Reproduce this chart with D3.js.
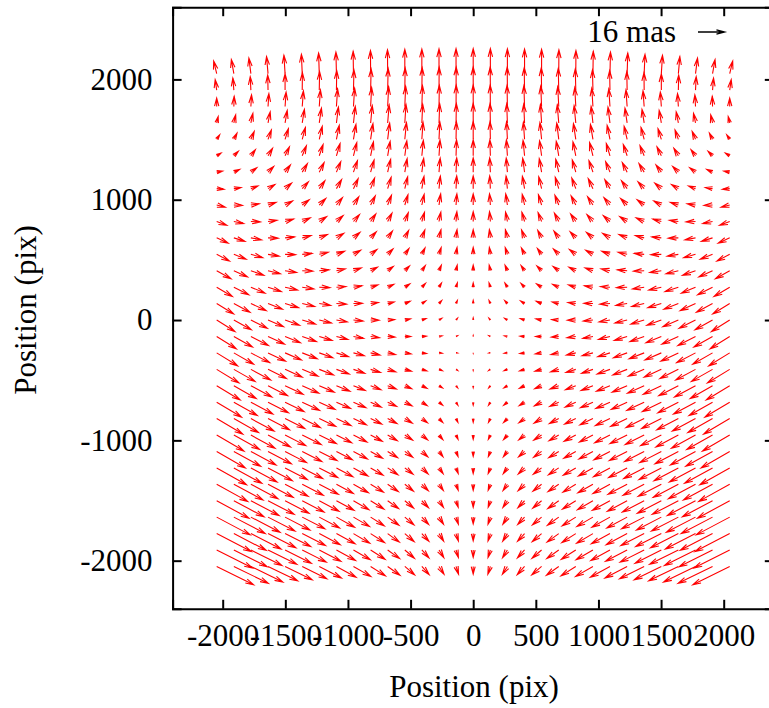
<!DOCTYPE html>
<html><head><meta charset="utf-8">
<script src="https://cdn.jsdelivr.net/npm/d3@7"></script>
<style>body{margin:0;background:#fff} svg text{font-family:"Liberation Serif","Times New Roman",serif;fill:#000}</style>
</head><body><svg id="c" width="769" height="708"></svg>
<script>
const xTicks=[-2000,-1500,-1000,-500,0,500,1000,1500,2000];
const yTicks=[-2000,-1000,0,1000,2000];
const gridX=[-2048,-1911,-1775,-1638,-1502,-1365,-1229,-1092,-956,-819,-683,-546,-410,-273,-137,0,137,273,410,546,683,819,956,1092,1229,1365,1502,1638,1775,1911,2048];
const gridY=[2048,1911,1775,1638,1502,1365,1229,1092,956,819,683,546,410,273,137,0,-137,-273,-410,-546,-683,-819,-956,-1092,-1229,-1365,-1502,-1638,-1775,-1911,-2048];
// displacement in mas, rows top (y=2048) to bottom (y=-2048), columns left to right
const dxMas=[
[-1.8,-1.5,-1.2,-.9,-.7,-.5,-.4,-.3,-.2,-.1,-.1,0,0,0,0,0,0,0,0,0,.1,.1,.2,.3,.4,.5,.7,.9,1.2,1.5,1.8],
[-.9,-.6,-.4,-.2,0,.1,.2,.2,.3,.3,.3,.2,.2,.1,.1,0,-.1,-.1,-.2,-.2,-.3,-.3,-.3,-.2,-.2,-.1,0,.2,.4,.6,.9],
[0,.2,.4,.5,.6,.7,.7,.7,.7,.6,.6,.5,.4,.2,.1,0,-.1,-.2,-.4,-.5,-.6,-.6,-.7,-.7,-.7,-.7,-.6,-.5,-.4,-.2,0],
[.9,1.1,1.2,1.3,1.3,1.3,1.3,1.2,1.1,1,.9,.7,.5,.4,.2,0,-.2,-.4,-.5,-.7,-.9,-1,-1.1,-1.2,-1.3,-1.3,-1.3,-1.3,-1.2,-1.1,-.9],
[1.8,1.9,2,2,2,1.9,1.8,1.7,1.5,1.4,1.2,1,.7,.5,.2,0,-.2,-.5,-.7,-1,-1.2,-1.4,-1.5,-1.7,-1.8,-1.9,-2,-2,-2,-1.9,-1.8],
[2.6,2.7,2.7,2.7,2.6,2.5,2.3,2.2,2,1.7,1.5,1.2,.9,.6,.3,0,-.3,-.6,-.9,-1.2,-1.5,-1.7,-2,-2.2,-2.3,-2.5,-2.6,-2.7,-2.7,-2.7,-2.6],
[3.5,3.5,3.5,3.4,3.2,3.1,2.9,2.6,2.4,2.1,1.8,1.4,1.1,.7,.4,0,-.4,-.7,-1.1,-1.4,-1.8,-2.1,-2.4,-2.6,-2.9,-3.1,-3.2,-3.4,-3.5,-3.5,-3.5],
[4.4,4.3,4.2,4.1,3.9,3.7,3.4,3.1,2.8,2.4,2.1,1.7,1.3,.8,.4,0,-.4,-.8,-1.3,-1.7,-2.1,-2.4,-2.8,-3.1,-3.4,-3.7,-3.9,-4.1,-4.2,-4.3,-4.4],
[5.2,5.1,5,4.8,4.5,4.2,3.9,3.6,3.2,2.8,2.3,1.9,1.4,1,.5,0,-.5,-1,-1.4,-1.9,-2.3,-2.8,-3.2,-3.6,-3.9,-4.2,-4.5,-4.8,-5,-5.1,-5.2],
[6.1,5.9,5.7,5.4,5.1,4.8,4.4,4,3.6,3.1,2.6,2.1,1.6,1.1,.5,0,-.5,-1.1,-1.6,-2.1,-2.6,-3.1,-3.6,-4,-4.4,-4.8,-5.1,-5.4,-5.7,-5.9,-6.1],
[6.9,6.7,6.4,6.1,5.7,5.3,4.9,4.4,3.9,3.4,2.9,2.3,1.8,1.2,.6,0,-.6,-1.2,-1.8,-2.3,-2.9,-3.4,-3.9,-4.4,-4.9,-5.3,-5.7,-6.1,-6.4,-6.7,-6.9],
[7.7,7.4,7.1,6.7,6.3,5.9,5.4,4.9,4.3,3.8,3.2,2.5,1.9,1.3,.6,0,-.6,-1.3,-1.9,-2.5,-3.2,-3.8,-4.3,-4.9,-5.4,-5.9,-6.3,-6.7,-7.1,-7.4,-7.7],
[8.6,8.2,7.8,7.4,6.9,6.4,5.9,5.3,4.7,4.1,3.4,2.8,2.1,1.4,.7,0,-.7,-1.4,-2.1,-2.8,-3.4,-4.1,-4.7,-5.3,-5.9,-6.4,-6.9,-7.4,-7.8,-8.2,-8.6],
[9.4,9,8.5,8,7.5,7,6.4,5.7,5.1,4.4,3.7,3,2.2,1.5,.8,0,-.8,-1.5,-2.2,-3,-3.7,-4.4,-5.1,-5.7,-6.4,-7,-7.5,-8,-8.5,-9,-9.4],
[10.2,9.7,9.2,8.7,8.1,7.5,6.8,6.1,5.4,4.7,3.9,3.2,2.4,1.6,.8,0,-.8,-1.6,-2.4,-3.2,-3.9,-4.7,-5.4,-6.1,-6.8,-7.5,-8.1,-8.7,-9.2,-9.7,-10.2],
[11,10.5,9.9,9.3,8.7,8,7.3,6.5,5.8,5,4.2,3.4,2.5,1.7,.9,0,-.9,-1.7,-2.5,-3.4,-4.2,-5,-5.8,-6.5,-7.3,-8,-8.7,-9.3,-9.9,-10.5,-11],
[11.8,11.2,10.6,9.9,9.2,8.5,7.7,6.9,6.1,5.3,4.4,3.6,2.7,1.8,.9,0,-.9,-1.8,-2.7,-3.6,-4.4,-5.3,-6.1,-6.9,-7.7,-8.5,-9.2,-9.9,-10.6,-11.2,-11.8],
[12.6,11.9,11.3,10.5,9.8,9,8.2,7.3,6.5,5.6,4.7,3.8,2.8,1.9,.9,0,-.9,-1.9,-2.8,-3.8,-4.7,-5.6,-6.5,-7.3,-8.2,-9,-9.8,-10.5,-11.3,-11.9,-12.6],
[13.4,12.7,11.9,11.1,10.3,9.5,8.6,7.7,6.8,5.9,4.9,4,3,2,1,0,-1,-2,-3,-4,-4.9,-5.9,-6.8,-7.7,-8.6,-9.5,-10.3,-11.1,-11.9,-12.7,-13.4],
[14.1,13.4,12.6,11.7,10.9,10,9,8.1,7.1,6.2,5.2,4.1,3.1,2.1,1,0,-1,-2.1,-3.1,-4.1,-5.2,-6.2,-7.1,-8.1,-9,-10,-10.9,-11.7,-12.6,-13.4,-14.1],
[14.9,14.1,13.2,12.3,11.4,10.4,9.5,8.5,7.5,6.4,5.4,4.3,3.2,2.2,1.1,0,-1.1,-2.2,-3.2,-4.3,-5.4,-6.4,-7.5,-8.5,-9.5,-10.4,-11.4,-12.3,-13.2,-14.1,-14.9],
[15.7,14.8,13.9,12.9,11.9,10.9,9.9,8.8,7.8,6.7,5.6,4.5,3.4,2.3,1.1,0,-1.1,-2.3,-3.4,-4.5,-5.6,-6.7,-7.8,-8.8,-9.9,-10.9,-11.9,-12.9,-13.9,-14.8,-15.7],
[16.4,15.5,14.5,13.5,12.4,11.4,10.3,9.2,8.1,7,5.8,4.7,3.5,2.3,1.2,0,-1.2,-2.3,-3.5,-4.7,-5.8,-7,-8.1,-9.2,-10.3,-11.4,-12.4,-13.5,-14.5,-15.5,-16.4],
[17.2,16.1,15.1,14,12.9,11.8,10.7,9.6,8.4,7.2,6,4.8,3.6,2.4,1.2,0,-1.2,-2.4,-3.6,-4.8,-6,-7.2,-8.4,-9.6,-10.7,-11.8,-12.9,-14,-15.1,-16.1,-17.2],
[17.9,16.8,15.7,14.6,13.4,12.3,11.1,9.9,8.7,7.5,6.2,5,3.8,2.5,1.3,0,-1.3,-2.5,-3.8,-5,-6.2,-7.5,-8.7,-9.9,-11.1,-12.3,-13.4,-14.6,-15.7,-16.8,-17.9],
[18.6,17.5,16.3,15.1,13.9,12.7,11.5,10.2,9,7.7,6.4,5.2,3.9,2.6,1.3,0,-1.3,-2.6,-3.9,-5.2,-6.4,-7.7,-9,-10.2,-11.5,-12.7,-13.9,-15.1,-16.3,-17.5,-18.6],
[19.4,18.1,16.9,15.7,14.4,13.1,11.9,10.6,9.3,8,6.6,5.3,4,2.7,1.3,0,-1.3,-2.7,-4,-5.3,-6.6,-8,-9.3,-10.6,-11.9,-13.1,-14.4,-15.7,-16.9,-18.1,-19.4],
[20.1,18.8,17.5,16.2,14.9,13.6,12.2,10.9,9.6,8.2,6.8,5.5,4.1,2.7,1.4,0,-1.4,-2.7,-4.1,-5.5,-6.8,-8.2,-9.6,-10.9,-12.2,-13.6,-14.9,-16.2,-17.5,-18.8,-20.1],
[20.8,19.4,18.1,16.7,15.4,14,12.6,11.2,9.8,8.4,7,5.6,4.2,2.8,1.4,0,-1.4,-2.8,-4.2,-5.6,-7,-8.4,-9.8,-11.2,-12.6,-14,-15.4,-16.7,-18.1,-19.4,-20.8],
[21.5,20.1,18.7,17.3,15.8,14.4,13,11.5,10.1,8.7,7.2,5.8,4.3,2.9,1.4,0,-1.4,-2.9,-4.3,-5.8,-7.2,-8.7,-10.1,-11.5,-13,-14.4,-15.8,-17.3,-18.7,-20.1,-21.5],
[22.2,20.7,19.2,17.8,16.3,14.8,13.3,11.8,10.4,8.9,7.4,5.9,4.4,3,1.5,0,-1.5,-3,-4.4,-5.9,-7.4,-8.9,-10.4,-11.8,-13.3,-14.8,-16.3,-17.8,-19.2,-20.7,-22.2]
];
const dyMas=[
[7.8,8.8,9.7,10.6,11.4,12.1,12.8,13.4,13.9,14.4,14.8,15.1,15.3,15.5,15.6,15.6,15.6,15.5,15.3,15.1,14.8,14.4,13.9,13.4,12.8,12.1,11.4,10.6,9.7,8.8,7.8],
[6.5,7.5,8.5,9.4,10.2,10.9,11.6,12.2,12.7,13.2,13.6,13.9,14.1,14.3,14.4,14.4,14.4,14.3,14.1,13.9,13.6,13.2,12.7,12.2,11.6,10.9,10.2,9.4,8.5,7.5,6.5],
[5.2,6.3,7.2,8.1,9,9.7,10.4,11,11.5,12,12.4,12.7,13,13.2,13.3,13.3,13.3,13.2,13,12.7,12.4,12,11.5,11,10.4,9.7,9,8.1,7.2,6.3,5.2],
[4,5.1,6,7,7.8,8.5,9.2,9.9,10.4,10.9,11.3,11.6,11.8,12,12.1,12.2,12.1,12,11.8,11.6,11.3,10.9,10.4,9.9,9.2,8.5,7.8,7,6,5.1,4],
[2.8,3.9,4.9,5.8,6.6,7.4,8.1,8.7,9.3,9.8,10.2,10.5,10.7,10.9,11,11.1,11,10.9,10.7,10.5,10.2,9.8,9.3,8.7,8.1,7.4,6.6,5.8,4.9,3.9,2.8],
[1.7,2.8,3.8,4.7,5.6,6.3,7,7.7,8.2,8.7,9.1,9.4,9.7,9.9,10,10,10,9.9,9.7,9.4,9.1,8.7,8.2,7.7,7,6.3,5.6,4.7,3.8,2.8,1.7],
[.6,1.7,2.7,3.6,4.5,5.3,6,6.6,7.2,7.6,8.1,8.4,8.7,8.8,9,9,9,8.8,8.7,8.4,8.1,7.6,7.2,6.6,6,5.3,4.5,3.6,2.7,1.7,.6],
[-.4,.7,1.7,2.6,3.5,4.3,5,5.6,6.2,6.6,7.1,7.4,7.7,7.8,8,8,8,7.8,7.7,7.4,7.1,6.6,6.2,5.6,5,4.3,3.5,2.6,1.7,.7,-.4],
[-1.4,-.3,.7,1.6,2.5,3.3,4,4.6,5.2,5.7,6.1,6.4,6.7,6.9,7,7,7,6.9,6.7,6.4,6.1,5.7,5.2,4.6,4,3.3,2.5,1.6,.7,-.3,-1.4],
[-2.4,-1.3,-.3,.7,1.5,2.3,3,3.7,4.3,4.7,5.2,5.5,5.8,5.9,6.1,6.1,6.1,5.9,5.8,5.5,5.2,4.7,4.3,3.7,3,2.3,1.5,.7,-.3,-1.3,-2.4],
[-3.3,-2.2,-1.2,-.2,.6,1.4,2.1,2.8,3.4,3.8,4.3,4.6,4.9,5.1,5.2,5.2,5.2,5.1,4.9,4.6,4.3,3.8,3.4,2.8,2.1,1.4,.6,-.2,-1.2,-2.2,-3.3],
[-4.2,-3.1,-2.1,-1.1,-.2,.6,1.3,1.9,2.5,3,3.4,3.7,4,4.2,4.3,4.3,4.3,4.2,4,3.7,3.4,3,2.5,1.9,1.3,.6,-.2,-1.1,-2.1,-3.1,-4.2],
[-5,-3.9,-2.9,-1.9,-1.1,-.3,.5,1.1,1.7,2.2,2.6,2.9,3.2,3.4,3.5,3.5,3.5,3.4,3.2,2.9,2.6,2.2,1.7,1.1,.5,-.3,-1.1,-1.9,-2.9,-3.9,-5],
[-5.8,-4.7,-3.7,-2.7,-1.8,-1.1,-.3,.3,.9,1.4,1.8,2.1,2.4,2.6,2.7,2.7,2.7,2.6,2.4,2.1,1.8,1.4,.9,.3,-.3,-1.1,-1.8,-2.7,-3.7,-4.7,-5.8],
[-6.5,-5.4,-4.4,-3.5,-2.6,-1.8,-1.1,-.4,.1,.6,1,1.4,1.6,1.8,1.9,2,1.9,1.8,1.6,1.4,1,.6,.1,-.4,-1.1,-1.8,-2.6,-3.5,-4.4,-5.4,-6.5],
[-7.2,-6.1,-5.1,-4.2,-3.3,-2.5,-1.8,-1.2,-.6,-.1,.3,.7,.9,1.1,1.2,1.3,1.2,1.1,.9,.7,.3,-.1,-.6,-1.2,-1.8,-2.5,-3.3,-4.2,-5.1,-6.1,-7.2],
[-7.7,-6.6,-5.6,-4.7,-3.9,-3.1,-2.4,-1.8,-1.2,-.8,-.3,0,.2,.4,.5,.6,.5,.4,.2,0,-.3,-.8,-1.2,-1.8,-2.4,-3.1,-3.9,-4.7,-5.6,-6.6,-7.7],
[-8.1,-7.1,-6.1,-5.2,-4.4,-3.7,-3,-2.4,-1.8,-1.4,-1,-.6,-.4,-.2,-.1,-.1,-.1,-.2,-.4,-.6,-1,-1.4,-1.8,-2.4,-3,-3.7,-4.4,-5.2,-6.1,-7.1,-8.1],
[-8.5,-7.5,-6.6,-5.7,-4.9,-4.2,-3.5,-2.9,-2.4,-1.9,-1.6,-1.2,-1,-.8,-.7,-.7,-.7,-.8,-1,-1.2,-1.6,-1.9,-2.4,-2.9,-3.5,-4.2,-4.9,-5.7,-6.6,-7.5,-8.5],
[-8.9,-8,-7,-6.2,-5.4,-4.7,-4,-3.4,-2.9,-2.5,-2.1,-1.8,-1.6,-1.4,-1.3,-1.2,-1.3,-1.4,-1.6,-1.8,-2.1,-2.5,-2.9,-3.4,-4,-4.7,-5.4,-6.2,-7,-8,-8.9],
[-9.3,-8.3,-7.4,-6.6,-5.8,-5.1,-4.5,-3.9,-3.4,-3,-2.6,-2.3,-2.1,-1.9,-1.8,-1.8,-1.8,-1.9,-2.1,-2.3,-2.6,-3,-3.4,-3.9,-4.5,-5.1,-5.8,-6.6,-7.4,-8.3,-9.3],
[-9.7,-8.7,-7.8,-7,-6.2,-5.6,-4.9,-4.4,-3.9,-3.4,-3.1,-2.8,-2.6,-2.4,-2.3,-2.3,-2.3,-2.4,-2.6,-2.8,-3.1,-3.4,-3.9,-4.4,-4.9,-5.6,-6.2,-7,-7.8,-8.7,-9.7],
[-10,-9,-8.2,-7.4,-6.6,-5.9,-5.3,-4.8,-4.3,-3.9,-3.5,-3.2,-3,-2.8,-2.7,-2.7,-2.7,-2.8,-3,-3.2,-3.5,-3.9,-4.3,-4.8,-5.3,-5.9,-6.6,-7.4,-8.2,-9,-10],
[-10.3,-9.3,-8.5,-7.7,-7,-6.3,-5.7,-5.2,-4.7,-4.3,-3.9,-3.6,-3.4,-3.3,-3.2,-3.1,-3.2,-3.3,-3.4,-3.6,-3.9,-4.3,-4.7,-5.2,-5.7,-6.3,-7,-7.7,-8.5,-9.3,-10.3],
[-10.5,-9.6,-8.8,-8,-7.3,-6.6,-6,-5.5,-5,-4.6,-4.3,-4,-3.8,-3.6,-3.5,-3.5,-3.5,-3.6,-3.8,-4,-4.3,-4.6,-5,-5.5,-6,-6.6,-7.3,-8,-8.8,-9.6,-10.5],
[-10.7,-9.8,-9,-8.2,-7.5,-6.9,-6.3,-5.8,-5.3,-4.9,-4.6,-4.3,-4.1,-3.9,-3.8,-3.8,-3.8,-3.9,-4.1,-4.3,-4.6,-4.9,-5.3,-5.8,-6.3,-6.9,-7.5,-8.2,-9,-9.8,-10.7],
[-10.9,-10,-9.2,-8.5,-7.8,-7.1,-6.6,-6,-5.6,-5.2,-4.9,-4.6,-4.4,-4.2,-4.1,-4.1,-4.1,-4.2,-4.4,-4.6,-4.9,-5.2,-5.6,-6,-6.6,-7.1,-7.8,-8.5,-9.2,-10,-10.9],
[-11.1,-10.2,-9.4,-8.7,-8,-7.3,-6.8,-6.3,-5.8,-5.4,-5.1,-4.8,-4.6,-4.5,-4.4,-4.3,-4.4,-4.5,-4.6,-4.8,-5.1,-5.4,-5.8,-6.3,-6.8,-7.3,-8,-8.7,-9.4,-10.2,-11.1],
[-11.2,-10.4,-9.6,-8.8,-8.1,-7.5,-6.9,-6.4,-6,-5.6,-5.3,-5,-4.8,-4.7,-4.6,-4.5,-4.6,-4.7,-4.8,-5,-5.3,-5.6,-6,-6.4,-6.9,-7.5,-8.1,-8.8,-9.6,-10.4,-11.2],
[-11.3,-10.5,-9.7,-8.9,-8.3,-7.6,-7.1,-6.6,-6.1,-5.8,-5.4,-5.2,-5,-4.8,-4.7,-4.7,-4.7,-4.8,-5,-5.2,-5.4,-5.8,-6.1,-6.6,-7.1,-7.6,-8.3,-8.9,-9.7,-10.5,-11.3],
[-11.4,-10.5,-9.7,-9,-8.3,-7.7,-7.2,-6.7,-6.2,-5.9,-5.5,-5.3,-5.1,-4.9,-4.8,-4.8,-4.8,-4.9,-5.1,-5.3,-5.5,-5.9,-6.2,-6.7,-7.2,-7.7,-8.3,-9,-9.7,-10.5,-11.4]
];
const keyLabel="16 mas";
const keyMas=16;
const axisTitleX="Position (pix)";
const axisTitleY="Position (pix)";
const masToPix=13.3; // vector scale: data units (pix) per mas

const svg=d3.select("#c");
const x=d3.scaleLinear().domain([-2400,2400]).range([172.6,773.8]);
const y=d3.scaleLinear().domain([-2400,2600]).range([608.8,7.2]);
const FS=31;

function arrowPath(x0,y0,x1,y1){
  const dx=x1-x0, dy=y1-y0, len=Math.hypot(dx,dy);
  if(len<0.05) return "";
  const hl=Math.min(8.5,len), ang=Math.atan2(dy,dx), a=15*Math.PI/180;
  const p1=[x1-hl*Math.cos(ang-a), y1-hl*Math.sin(ang-a)];
  const p2=[x1-hl*Math.cos(ang+a), y1-hl*Math.sin(ang+a)];
  return `M${x0},${y0}L${x1},${y1}M${p1[0]},${p1[1]}L${x1},${y1}L${p2[0]},${p2[1]}`;
}

const arrows=[];
gridY.forEach((gy,r)=>gridX.forEach((gx,c)=>{
  arrows.push({x0:gx,y0:gy,x1:gx+dxMas[r][c]*masToPix,y1:gy+dyMas[r][c]*masToPix});
}));

svg.append("g").selectAll("path").data(arrows).join("path")
  .attr("d",d=>arrowPath(x(d.x0),y(d.y0),x(d.x1),y(d.y1)))
  .attr("fill","none").attr("stroke","#ff0000").attr("stroke-width",1.1);

// axes
const gx=svg.append("g").attr("transform",`translate(0,${y(-2400)})`)
  .call(d3.axisBottom(x).tickValues(xTicks).tickSize(-9).tickPadding(15).tickFormat(d3.format("d")));
const gxt=svg.append("g").attr("transform",`translate(0,${y(2600)})`)
  .call(d3.axisTop(x).tickValues(xTicks).tickSize(-9).tickFormat(""));
const gy=svg.append("g").attr("transform",`translate(${x(-2400)},0)`)
  .call(d3.axisLeft(y).tickValues(yTicks).tickSize(-9).tickPadding(20).tickFormat(d3.format("d")));
const gyr=svg.append("g").attr("transform",`translate(${x(2400)},0)`)
  .call(d3.axisRight(y).tickValues(yTicks).tickSize(-9).tickFormat(""));
[gx,gxt,gy,gyr].forEach(g=>{
  g.selectAll("path.domain").attr("stroke","#000").attr("stroke-width",2);
  g.selectAll(".tick line").attr("stroke","#000").attr("stroke-width",2);
  g.selectAll(".tick text").attr("font-size",FS).attr("font-family","Liberation Serif").attr("fill","#000");
});
gx.selectAll(".tick text").text(d=>d<0?"-"+Math.abs(d):d);
gy.selectAll(".tick text").text(d=>d<0?"-"+Math.abs(d):d);

// titles
svg.append("text").attr("x",474).attr("y",697).attr("text-anchor","middle").attr("font-size",FS).text(axisTitleX);
svg.append("text").attr("transform","translate(36,310) rotate(-90)").attr("text-anchor","middle").attr("font-size",FS).text(axisTitleY);

// key
svg.append("text").attr("x",676).attr("y",42).attr("text-anchor","end").attr("font-size",FS).text(keyLabel);
const kx0=698, ky=32;
const klen=x(keyMas*masToPix)-x(0);
svg.append("path").attr("d",arrowPath(kx0,ky,kx0+klen,ky)).attr("fill","none").attr("stroke","#000").attr("stroke-width",1.3);
</script></body></html>
